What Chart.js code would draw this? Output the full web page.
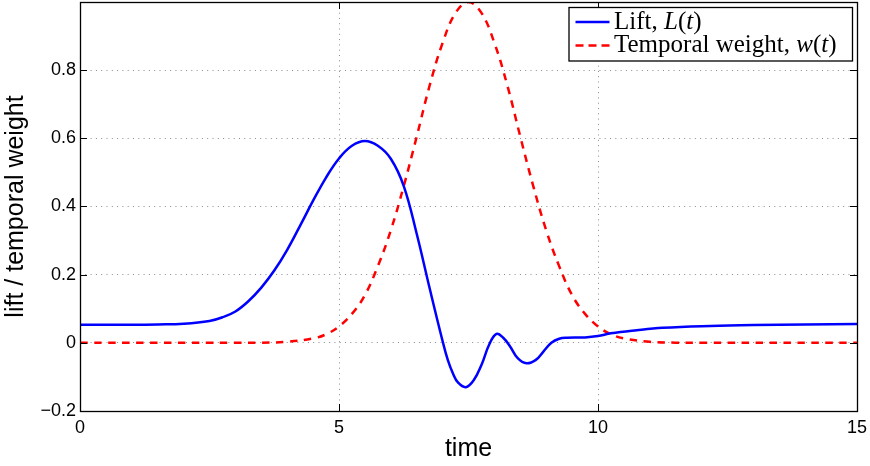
<!DOCTYPE html>
<html>
<head>
<meta charset="utf-8">
<script src="https://cdn.jsdelivr.net/npm/chart.js@4/dist/chart.umd.min.js"></script>
<style>
  html, body { margin: 0; padding: 0; background: #ffffff; }
  canvas { display: block; }
</style>
</head>
<body>
<canvas id="chart" width="870" height="466"></canvas>
<script>
// Lift history L(t)
const liftTime  = [0, 0.5, 1.0, 1.5, 2.0, 2.5, 2.75, 3.0, 3.25, 3.5, 3.75, 4.0, 4.25, 4.5, 4.75, 5.0, 5.25, 5.5, 5.75, 6.0, 6.25, 6.5, 6.75, 7.0, 7.1, 7.2, 7.3, 7.45, 7.6, 7.75, 7.9, 8.04, 8.17, 8.3, 8.45, 8.62, 8.8, 8.95, 9.1, 9.25, 9.4, 9.75, 10.0, 10.25, 10.75, 11.25, 12.0, 13.0, 14.0, 15.0];
const liftValue = [0.053, 0.053, 0.053, 0.054, 0.056, 0.064, 0.075, 0.092, 0.122, 0.162, 0.212, 0.273, 0.344, 0.417, 0.485, 0.541, 0.578, 0.592, 0.578, 0.54, 0.46, 0.32, 0.16, 0.005, -0.05, -0.09, -0.117, -0.13, -0.11, -0.065, -0.005, 0.026, 0.015, -0.01, -0.045, -0.06, -0.05, -0.025, 0.0, 0.012, 0.015, 0.016, 0.02, 0.028, 0.037, 0.044, 0.049, 0.052, 0.054, 0.055];

// Temporal weight w(t)
const weightTime  = [0, 3.0, 3.5, 4.0, 4.5, 4.75, 5.0, 5.25, 5.5, 5.75, 6.0, 6.25, 6.5, 6.75, 7.0, 7.25, 7.5, 7.75, 8.0, 8.25, 8.5, 8.75, 9.0, 9.25, 9.5, 9.75, 10.0, 10.25, 10.5, 11.0, 11.5, 12.0, 15.0];
const weightValue = [0, 0, 0.0005, 0.003, 0.013, 0.025, 0.048, 0.085, 0.14, 0.225, 0.33, 0.46, 0.605, 0.755, 0.88, 0.968, 1.0, 0.968, 0.88, 0.755, 0.605, 0.46, 0.33, 0.225, 0.14, 0.085, 0.048, 0.025, 0.013, 0.003, 0.0005, 0, 0];

// Axis ticks
const xTicks = [0, 5, 10, 15];
const xTickLabels = ['0', '5', '10', '15'];
const yTicks = [-0.2, 0, 0.2, 0.4, 0.6, 0.8, 1.0];
const yTickLabels = ['\u22120.2', '0', '0.2', '0.4', '0.6', '0.8', null];

// Legend text runs: [text, italic]
const liftLegend   = [['Lift, ', false], ['L', true], ['(', false], ['t', true], [')', false]];
const weightLegend = [['Temporal weight, ', false], ['w', true], ['(', false], ['t', true], [')', false]];

const SANS = "'Liberation Sans', Arial, Helvetica, sans-serif";
const SERIF = "'Liberation Serif', 'Times New Roman', serif";
const BLUE = '#0000ff';
const RED = '#ff0000';
const RED_DASH = [7.5, 6.5];

const toPoints = (xs, ys) => xs.map((x, i) => ({ x: x, y: ys[i] }));

// Axes box with inward tick marks
const axesBox = {
  id: 'axesBox',
  afterDatasetsDraw(chart) {
    const { ctx, chartArea: a, scales } = chart;
    const len = 7;
    ctx.save();
    ctx.strokeStyle = '#000';
    ctx.lineWidth = 1;
    ctx.beginPath();
    xTicks.forEach(v => {
      const px = Math.round(scales.x.getPixelForValue(v)) + 0.5;
      ctx.moveTo(px, a.bottom); ctx.lineTo(px, a.bottom - len);
      ctx.moveTo(px, a.top); ctx.lineTo(px, a.top + len);
    });
    yTicks.forEach(v => {
      const py = Math.round(scales.y.getPixelForValue(v)) + 0.5;
      ctx.moveTo(a.left, py); ctx.lineTo(a.left + len, py);
      ctx.moveTo(a.right, py); ctx.lineTo(a.right - len, py);
    });
    ctx.stroke();
    ctx.lineWidth = 1.3;
    ctx.strokeRect(Math.round(a.left) + 0.5, Math.round(a.top) + 0.5,
                   Math.round(a.right - a.left), Math.round(a.bottom - a.top));
    ctx.restore();
  }
};

// Legend with mixed upright / italic text
const mathLegend = {
  id: 'mathLegend',
  afterDraw(chart) {
    const { ctx, chartArea: a } = chart;
    const size = 25;
    const entries = [
      { runs: liftLegend, color: BLUE, dash: [] },
      { runs: weightLegend, color: RED, dash: [8, 5] }
    ];
    ctx.save();
    const fontFor = it => (it ? 'italic ' : '') + size + 'px ' + SERIF;
    const widthOf = runs => runs.reduce((w, r) => { ctx.font = fontFor(r[1]); return w + ctx.measureText(r[0]).width; }, 0);
    const textW = Math.max(...entries.map(e => widthOf(e.runs)));
    const padL = 6.5, sample = 34, gap = 4.5, padR = 16;
    const boxW = padL + sample + gap + textW + padR;
    const boxH = 53.5;
    const right = a.right - 4.5;
    const top = a.top + 5.5;
    const left = right - boxW;
    ctx.fillStyle = '#fff';
    ctx.fillRect(left, top, boxW, boxH);
    ctx.strokeStyle = '#000';
    ctx.lineWidth = 1.3;
    ctx.strokeRect(left, top, boxW, boxH);
    const rowY = [top + 14.5, top + 38];
    entries.forEach((e, i) => {
      const y = rowY[i];
      ctx.beginPath();
      ctx.strokeStyle = e.color;
      ctx.lineWidth = 2.5;
      ctx.setLineDash(e.dash);
      ctx.moveTo(left + padL, y);
      ctx.lineTo(left + padL + sample, y);
      ctx.stroke();
      ctx.setLineDash([]);
      let x = left + padL + sample + gap;
      ctx.fillStyle = '#000';
      ctx.textBaseline = 'alphabetic';
      e.runs.forEach(r => {
        ctx.font = fontFor(r[1]);
        ctx.fillText(r[0], x, y + 6.8);
        x += ctx.measureText(r[0]).width;
      });
    });
    ctx.restore();
  }
};

new Chart(document.getElementById('chart'), {
  type: 'line',
  data: {
    datasets: [
      {
        label: 'Lift, L(t)',
        data: toPoints(liftTime, liftValue),
        borderColor: BLUE,
        borderWidth: 2.5,
        pointRadius: 0,
        fill: false,
        tension: 0.4
      },
      {
        label: 'Temporal weight, w(t)',
        data: toPoints(weightTime, weightValue),
        borderColor: RED,
        borderWidth: 2.5,
        borderDash: RED_DASH,
        pointRadius: 0,
        fill: false,
        tension: 0.4
      }
    ]
  },
  options: {
    responsive: false,
    animation: false,
    devicePixelRatio: 1,
    layout: { padding: { left: 0, top: 2, right: 13, bottom: 0 } },
    plugins: { legend: { display: false }, tooltip: { enabled: false } },
    scales: {
      x: {
        type: 'linear',
        min: 0, max: 15,
        afterBuildTicks: s => { s.ticks = xTicks.map(v => ({ value: v })); },
        afterFit: s => { s.height = 55; s.paddingLeft = 0; s.paddingRight = 0; },
        ticks: {
          callback: (v, i) => xTickLabels[i],
          font: { family: SANS, size: 18 },
          color: '#000',
          padding: 6,
          maxRotation: 0,
          autoSkip: false
        },
        grid: { drawTicks: false, color: '#8a8a8a', lineWidth: 1 },
        border: { display: false, dash: [1, 4.3] },
        title: {
          display: true,
          text: 'time',
          font: { family: SANS, size: 25 },
          color: '#000',
          padding: { top: 0, bottom: 2 }
        }
      },
      y: {
        type: 'linear',
        min: -0.2, max: 1.0,
        afterBuildTicks: s => { s.ticks = yTicks.map(v => ({ value: v })); },
        afterFit: s => { s.width = 80; s.paddingTop = 0; s.paddingBottom = 0; },
        ticks: {
          callback: (v, i) => yTickLabels[i],
          font: { family: SANS, size: 18 },
          color: '#000',
          padding: 4,
          autoSkip: false
        },
        grid: { drawTicks: false, color: '#8a8a8a', lineWidth: 1 },
        border: { display: false, dash: [1, 4.3] },
        title: {
          display: true,
          text: 'lift / temporal weight',
          font: { family: SANS, size: 25 },
          color: '#000',
          padding: { top: 1, bottom: 0 }
        }
      }
    }
  },
  plugins: [axesBox, mathLegend]
});
</script>
</body>
</html>
